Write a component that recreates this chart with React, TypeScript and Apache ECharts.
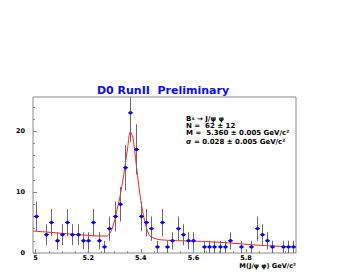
import React, { useEffect, useRef } from "react";
import * as echarts from "echarts";

// Histogram bins (centers) and counts
const binCenters = [
  5.0, 5.02, 5.04, 5.06, 5.08, 5.1, 5.12, 5.14, 5.16, 5.18,
  5.2, 5.22, 5.24, 5.26, 5.28, 5.3, 5.32, 5.34, 5.36, 5.38,
  5.4, 5.42, 5.44, 5.46, 5.48, 5.5, 5.52, 5.54, 5.56, 5.58,
  5.6, 5.62, 5.64, 5.66, 5.68, 5.7, 5.72, 5.74, 5.76, 5.78,
  5.8, 5.82, 5.84, 5.86, 5.88, 5.9, 5.92, 5.94, 5.96, 5.98,
];
const counts = [
  6, 0, 3, 5, 2, 3, 5, 3, 3, 2,
  2, 5, 2, 1, 4, 6, 8, 14, 23, 17,
  6, 5, 4, 1, 5, 1, 2, 4, 3, 2,
  2, 0, 1, 1, 1, 1, 1, 2, 0, 1,
  0, 1, 4, 3, 2, 1, 0, 1, 1, 1,
];
const errors = [
  2.45, 0, 1.73, 2.24, 1.41, 1.73, 2.24, 1.73, 1.73, 1.41,
  1.41, 2.24, 1.41, 1, 2, 2.45, 2.83, 3.74, 4.8, 4.12,
  2.45, 2.24, 2, 1, 2.24, 1, 1.41, 2, 1.73, 1.41,
  1.41, 0, 1, 1, 1, 1, 1, 1.41, 0, 1,
  0, 1, 2, 1.73, 1.41, 1, 0, 1, 1, 1,
];

// Fit curve
const curveX = [
  4.99, 5.04, 5.08, 5.12, 5.16, 5.2, 5.24, 5.27, 5.28, 5.29,
  5.3, 5.31, 5.32, 5.33, 5.34, 5.35, 5.36, 5.37, 5.38, 5.39,
  5.4, 5.41, 5.42, 5.43, 5.44, 5.46, 5.48, 5.52, 5.6, 5.66,
  5.72, 5.78, 5.84, 5.9, 5.96, 5.99,
];
const curveY = [
  3.6, 3.45, 3.3, 3.15, 3.0, 2.9, 2.78, 2.78, 3.1, 3.9,
  5.3, 7.2, 9.1, 11.5, 14.3, 17.3, 19.9, 18.9, 15.5, 11.8,
  8.6, 6.2, 4.3, 3.1, 2.6, 2.3, 2.15, 2.05, 1.95, 1.85,
  1.7, 1.5, 1.3, 1.15, 1.05, 1.0,
];

const xMajor = [5, 5.2, 5.4, 5.6, 5.8];
const xMinor = [5.05, 5.1, 5.15, 5.25, 5.3, 5.35, 5.45, 5.5, 5.55, 5.65, 5.7, 5.75, 5.85, 5.9, 5.95];
const yMajor = [0, 10, 20];
const yMinor = [2, 4, 6, 8, 12, 14, 16, 18, 22, 24];

const FONT = "DejaVu Sans";
const GRAY = "#888888";

export default function App() {
  const ref = useRef<HTMLDivElement>(null);
  useEffect(() => {
    document.body.style.margin = "0";
    const chart = echarts.init(ref.current!, null, { renderer: "svg" });
    const gridDef = { left: 33, right: 58, top: 97, bottom: 20 };
    const tickLabel = { fontFamily: FONT, fontWeight: "bold" as const, fontSize: 6.5, color: "#000" };
    chart.setOption({
      animation: false,
      grid: { ...gridDef, show: true, borderColor: GRAY, borderWidth: 1, backgroundColor: "transparent" },
      xAxis: [
        {
          type: "value", min: 4.99, max: 5.99, position: "bottom",
          axisLine: { show: false },
          splitLine: { show: false },
          axisTick: { show: true, inside: true, length: 4, customValues: xMajor, lineStyle: { color: GRAY } },
          axisLabel: { show: true, customValues: xMajor, margin: 1, ...tickLabel, formatter: (v: number) => String(v) },
        },
        {
          type: "value", min: 4.99, max: 5.99, position: "bottom",
          axisLine: { show: false },
          splitLine: { show: false },
          axisTick: { show: true, inside: true, length: 2, customValues: xMinor, lineStyle: { color: GRAY } },
          axisLabel: { show: false },
        },
      ],
      yAxis: [
        {
          type: "value", min: 0, max: 25.6, position: "left",
          axisLine: { show: false },
          splitLine: { show: false },
          axisTick: { show: true, inside: true, length: 4, customValues: yMajor, lineStyle: { color: GRAY } },
          axisLabel: { show: true, customValues: yMajor, margin: 8, ...tickLabel },
        },
        {
          type: "value", min: 0, max: 25.6, position: "left", offset: 0,
          axisLine: { show: false },
          splitLine: { show: false },
          axisTick: { show: true, inside: true, length: 2, customValues: yMinor, lineStyle: { color: GRAY } },
          axisLabel: { show: false },
        },
      ],
      series: [
        {
          type: "line",
          data: curveX.map((x, i) => [x, curveY[i]]),
          smooth: 0.3,
          showSymbol: false,
          clip: true,
          lineStyle: { color: "#ff2020", width: 1 },
          z: 2,
        },
        {
          type: "custom",
          clip: true,
          z: 3,
          data: binCenters.map((x, i) => [x, counts[i], errors[i]]),
          renderItem: (params: any, api: any) => {
            const x = api.value(0);
            const y = api.value(1);
            const e = api.value(2);
            if (!y) return null;
            const c = api.coord([x, y]);
            const lo = api.coord([x, y - e]);
            const hi = api.coord([x, y + e]);
            const px = Math.round(c[0]) + 0.5;
            return {
              type: "group",
              children: [
                { type: "line", shape: { x1: px, y1: lo[1], x2: px, y2: hi[1] }, style: { stroke: "#6a6a6a", lineWidth: 1 } },
                { type: "line", shape: { x1: px - 2.5, y1: c[1], x2: px + 2.5, y2: c[1] }, style: { stroke: "#0000ff", lineWidth: 1 } },
                { type: "circle", shape: { cx: px, cy: c[1], r: 1.7 }, style: { fill: "#0000ff" } },
              ],
            };
          },
        },
      ],
      graphic: [
        { type: "text", x: 163, y: 90, style: { text: "D0 RunII  Preliminary", fontFamily: FONT, fontWeight: "bold", fontSize: 11, fill: "#0a0aff", align: "center", verticalAlign: "middle" } },
        {
          type: "text", x: 186, y: 118.8,
          style: {
            text: "{b|B}{s|s}{b| → J/ψ φ}",
            verticalAlign: "middle",
            rich: {
              b: { fontFamily: FONT, fontWeight: "bold", fontSize: 7, fill: "#000", height: 6.4, lineHeight: 6.4, verticalAlign: "middle" },
              s: { fontFamily: FONT, fontWeight: "bold", fontSize: 4.5, fill: "#000", height: 6.4, lineHeight: 6.4, verticalAlign: "bottom", padding: [0, 0, 0, 0.5] },
            },
          },
        },
        { type: "text", x: 186, y: 125.9, style: { text: "N =  62 ± 12", fontFamily: FONT, fontWeight: "bold", fontSize: 7, lineHeight: 7, fill: "#000", verticalAlign: "middle" } },
        { type: "text", x: 186, y: 133.3, style: { text: "M =  5.360 ± 0.005 GeV/c²", fontFamily: FONT, fontWeight: "bold", fontSize: 7, lineHeight: 7, fill: "#000", verticalAlign: "middle" } },
        { type: "text", x: 186, y: 141.6, style: { text: "σ = 0.028 ± 0.005 GeV/c²", fontFamily: FONT, fontWeight: "bold", fontSize: 7, lineHeight: 7, fill: "#000", verticalAlign: "middle" } },
        { type: "text", x: 296, y: 265.5, style: { text: "M(J/ψ φ) GeV/c²", fontFamily: FONT, fontWeight: "bold", fontSize: 6.6, fill: "#000", align: "right", verticalAlign: "middle" } },
      ],
    });
    return () => chart.dispose();
  }, []);
  return <div ref={ref} style={{ position: "absolute", left: 0, top: 0, width: 354, height: 273 }} />;
}
